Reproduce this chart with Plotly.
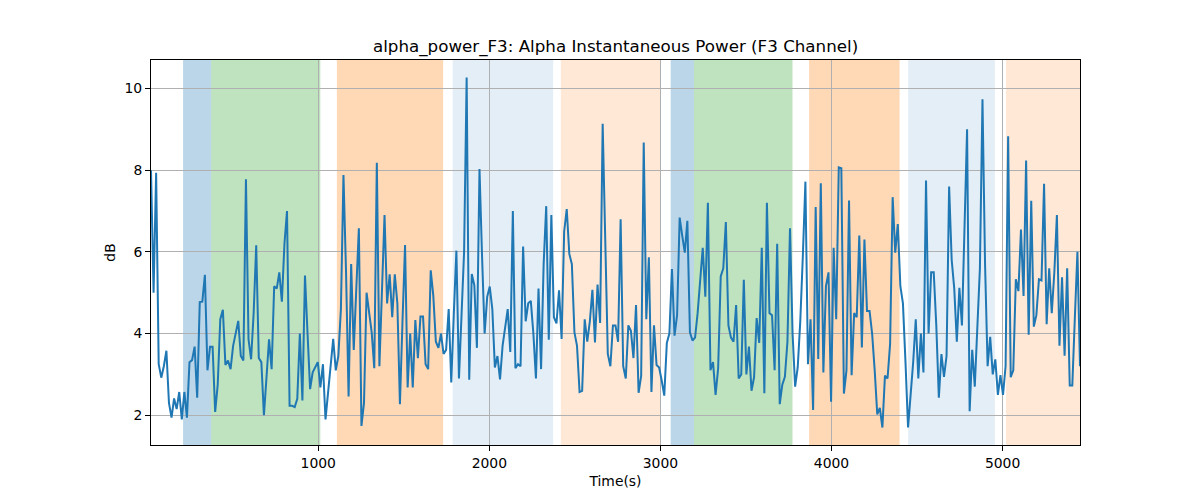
import plotly.graph_objects as go

# ---- data ----
t_start = 22.5
t_step = 15.0

power_db = [
    8.0, 5.0, 7.94, 3.25, 2.92, 3.2, 3.58, 2.3, 1.94, 2.41,
    2.15, 2.57, 1.9, 2.57, 1.94, 3.3, 3.35, 3.68, 2.43, 4.77,
    4.78, 5.44, 3.1, 3.68, 3.68, 2.08, 2.75, 4.35, 4.58, 3.23,
    3.34, 3.13, 3.7, 4.03, 4.31, 3.45, 3.34, 7.78, 3.86, 3.37,
    4.5, 6.16, 3.4, 3.3, 2.0, 2.92, 3.86, 3.13, 5.16, 5.1,
    5.5, 4.78, 6.2, 7.0, 2.23, 2.23, 2.2, 2.4, 4.0, 2.36,
    5.42, 4.0, 2.64, 3.05, 3.17, 3.3, 2.68, 3.25, 1.9, 2.55,
    3.2, 3.87, 3.1, 3.45, 4.6, 7.88, 5.5, 2.46, 5.7, 3.6,
    5.1, 6.58, 1.74, 2.3, 5.0, 4.5, 4.03, 3.15, 8.18, 3.2,
    5.0, 6.9, 4.74, 5.45, 4.4, 5.45, 4.74, 2.27, 4.3, 6.17,
    2.68, 4.0, 2.68, 4.33, 3.4, 4.42, 4.42, 3.25, 3.13, 5.55,
    4.93, 3.8, 3.65, 4.0, 3.5, 3.6, 4.6, 2.8, 4.5, 6.03,
    2.9, 4.4, 6.0, 10.27, 2.87, 5.46, 5.18, 3.65, 8.03, 5.9,
    4.0, 4.9, 5.15, 4.6, 3.17, 3.45, 2.88, 3.7, 4.2, 4.6,
    3.55, 7.0, 3.15, 3.25, 3.2, 6.13, 4.3, 4.74, 4.8, 4.0,
    2.9, 5.1, 3.13, 5.7, 7.12, 3.85, 6.9, 4.4, 4.25, 5.06,
    3.87, 6.5, 7.05, 5.95, 5.7, 4.03, 3.7, 2.57, 2.6, 4.35,
    3.8, 4.3, 5.07, 3.78, 5.2, 4.26, 9.14, 6.4, 3.5, 3.2,
    4.2, 4.2, 3.8, 6.8, 3.2, 2.9, 4.2, 4.07, 3.4, 4.7,
    2.55, 2.96, 8.68, 4.35, 5.87, 2.57, 4.2, 3.23, 3.17, 2.85,
    2.48, 3.77, 4.0, 5.58, 3.95, 4.45, 6.84, 6.4, 5.98, 6.76,
    4.03, 3.83, 3.9, 4.5, 5.2, 6.1, 4.9, 7.2, 3.1, 3.3,
    2.5, 3.15, 5.4, 5.6, 6.73, 4.2, 3.9, 3.8, 4.7, 2.9,
    3.0, 5.32, 3.0, 3.68, 2.6, 2.93, 4.38, 3.77, 6.1, 2.54,
    7.2, 4.5, 4.45, 3.1, 6.2, 2.27, 2.75, 2.94, 3.8, 6.58,
    4.0, 2.7, 3.17, 4.3, 5.9, 7.72, 3.25, 4.35, 2.13, 7.1,
    3.38, 7.68, 3.05, 5.16, 5.5, 2.33, 6.1, 4.35, 8.07, 8.05,
    2.53, 3.1, 7.26, 2.98, 4.5, 4.4, 6.4, 3.66, 6.3, 4.55,
    4.55, 4.0, 3.1, 2.02, 2.18, 1.7, 2.97, 2.9, 3.74, 7.34,
    5.98, 6.68, 5.16, 4.74, 3.3, 1.7, 2.5, 3.3, 4.35, 2.9,
    4.0, 3.05, 7.75, 4.0, 5.5, 5.5, 4.2, 2.43, 3.5, 2.94,
    3.45, 7.6, 5.8, 5.1, 3.8, 5.12, 4.2, 6.5, 9.0, 2.1,
    3.6, 2.7, 4.1, 5.6, 9.74, 5.7, 3.2, 3.92, 3.0, 3.37,
    2.5, 2.98, 2.5, 3.2, 8.83, 2.93, 3.1, 5.33, 5.04, 6.55,
    4.92, 8.24, 3.97, 7.25, 4.17, 4.45, 5.33, 5.3, 7.67, 4.23,
    5.6, 4.5, 5.5, 6.9, 3.7, 5.38, 3.46, 5.6, 2.73, 2.73,
    4.4, 6.0, 3.2,
]

times = [t_start + t_step * i for i in range(len(power_db))]

# shaded stage segments (start, end, kind)
seg_start = [210, 374, 1109, 1786, 2418, 3060, 3196, 3869, 4448, 5020]
seg_end = [374, 1012, 1730, 2373, 3001, 3196, 3772, 4398, 4955, 5500]
seg_kind = ["blue", "green", "orange", "lightblue", "lightorange",
            "blue", "green", "orange", "lightblue", "lightorange"]

x_ticks = [1000, 2000, 3000, 4000, 5000]
y_ticks = [2, 4, 6, 8, 10]

title_text = "alpha_power_F3: Alpha Instantaneous Power (F3 Channel)"
x_label = "Time(s)"
y_label = "dB"

# ---- styles ----
kind_color = {
    "blue": "rgba(31,119,180,0.3)",
    "green": "rgba(44,160,44,0.3)",
    "orange": "rgba(255,127,14,0.3)",
    "lightblue": "rgba(31,119,180,0.12)",
    "lightorange": "rgba(255,127,14,0.17)",
}

FONT = "DejaVu Sans, Liberation Sans, sans-serif"

fig = go.Figure()
fig.add_trace(go.Scatter(
    x=times, y=power_db, mode="lines",
    line=dict(color="#1f77b4", width=2),
    showlegend=False, hoverinfo="x+y",
))

x_lo, x_hi = times[0], times[-1]
for s, e, k in zip(seg_start, seg_end, seg_kind):
    fig.add_shape(type="rect", xref="x", yref="paper",
                  x0=s, x1=min(e, x_hi), y0=0, y1=1,
                  fillcolor=kind_color[k], line=dict(width=0), layer="below")

ymin, ymax = min(power_db), max(power_db)
pad = 0.05 * (ymax - ymin)

fig.update_layout(
    width=1200, height=500,
    margin=dict(l=151, r=120, t=60, b=55),
    paper_bgcolor="white", plot_bgcolor="white",
    font=dict(family=FONT, size=13.9, color="black"),
    title=dict(text=title_text, x=0.513, xanchor="center",
               y=0.908, yanchor="middle",
               font=dict(family=FONT, size=16.7, color="black")),
)
fig.update_xaxes(
    range=[x_lo, x_hi], tickvals=x_ticks, ticks="outside", ticklen=5,
    tickwidth=1, tickcolor="black",
    showgrid=True, gridcolor="#b0b0b0", gridwidth=1,
    showline=True, linecolor="black", linewidth=1, mirror=True,
    zeroline=False,
    title=dict(text=x_label, standoff=6, font=dict(family=FONT, size=13.9)),
)
fig.update_yaxes(
    range=[ymin - pad, ymax + pad], tickvals=y_ticks, ticks="outside", ticklen=5,
    tickwidth=1, tickcolor="black",
    showgrid=True, gridcolor="#b0b0b0", gridwidth=1,
    showline=True, linecolor="black", linewidth=1, mirror=True,
    zeroline=False,
    title=dict(text=y_label, standoff=5, font=dict(family=FONT, size=13.9)),
)

fig.write_html(
    "out.html",
    config={"displayModeBar": False},
    post_script="document.body.style.margin='0';document.body.style.padding='0';",
)
